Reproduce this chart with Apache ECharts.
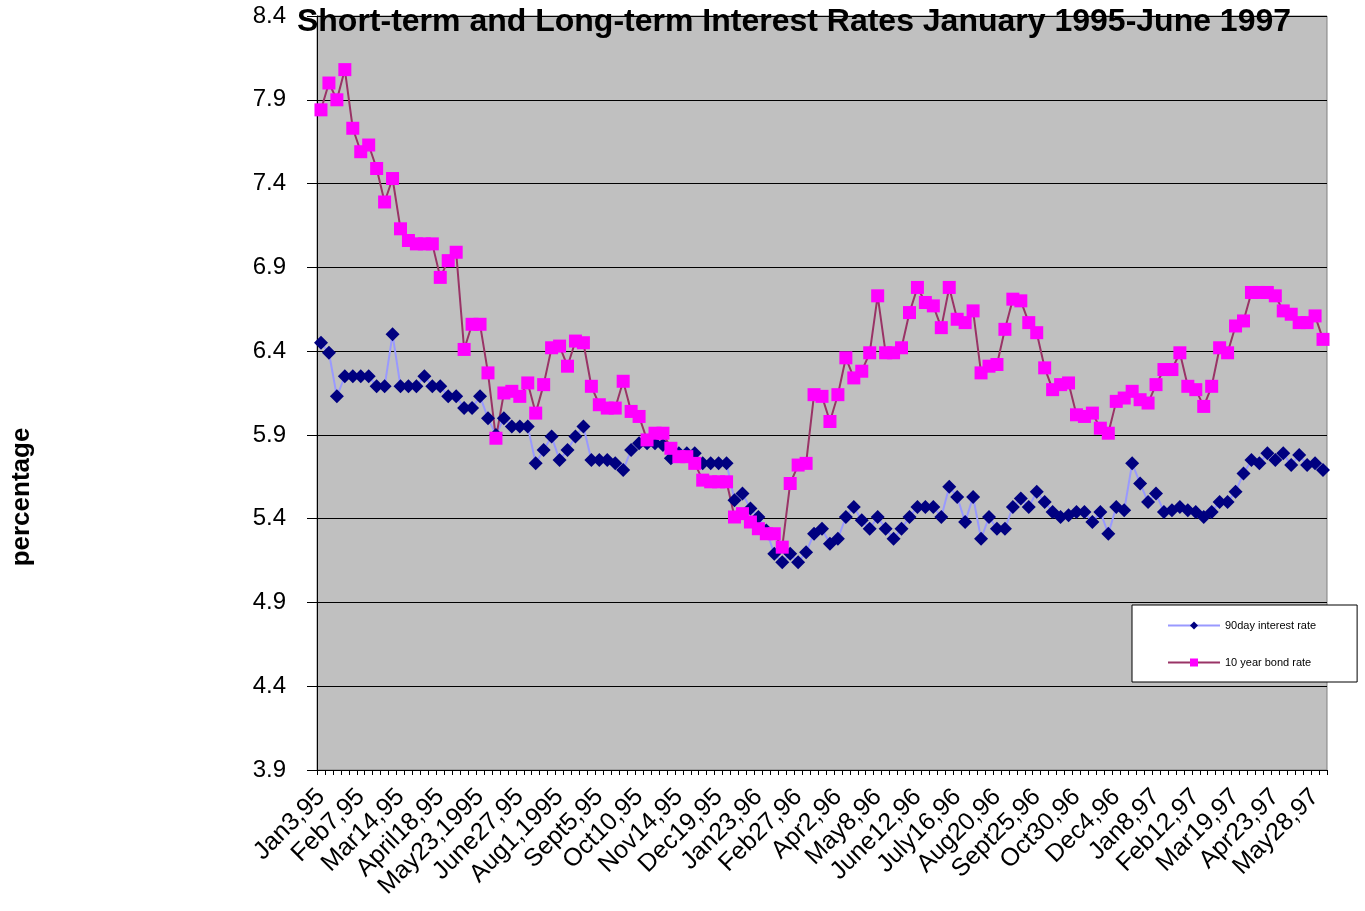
<!DOCTYPE html>
<html>
<head>
<meta charset="utf-8">
<title>Interest Rates 1995-1997</title>
<script src="https://cdn.jsdelivr.net/npm/echarts@6/dist/echarts.min.js"></script>
<style>
  html, body { margin: 0; padding: 0; background: #fff; }
  #chart { width: 1365px; height: 911px; }
</style>
</head>
<body>
<div id="chart"></div>
<script>
// weekly readings, Jan 3 1995 .. early June 1997
var tickLabels = ["Jan3,95", "Feb7,95", "Mar14,95", "April18,95", "May23,1995", "June27,95",
  "Aug1,1995", "Sept5,95", "Oct10,95", "Nov14,95", "Dec19,95", "Jan23,96", "Feb27,96",
  "Apr2,96", "May8,96", "June12,96", "July16,96", "Aug20,96", "Sept25,96", "Oct30,96",
  "Dec4,96", "Jan8,97", "Feb12,97", "Mar19,97", "Apr23,97", "May28,97"];

var bill90 = [6.45, 6.39, 6.13, 6.25, 6.25, 6.25, 6.25, 6.19, 6.19, 6.50,
  6.19, 6.19, 6.19, 6.25, 6.19, 6.19, 6.13, 6.13, 6.06, 6.06,
  6.13, 6.00, 5.90, 6.00, 5.95, 5.95, 5.95, 5.73, 5.81, 5.89,
  5.75, 5.81, 5.89, 5.95, 5.75, 5.75, 5.75, 5.73, 5.69, 5.81,
  5.85, 5.85, 5.85, 5.84, 5.76, 5.79, 5.79, 5.79, 5.73, 5.73,
  5.73, 5.73, 5.51, 5.55, 5.46, 5.41, 5.33, 5.19, 5.14, 5.19,
  5.14, 5.20, 5.31, 5.34, 5.25, 5.28, 5.41, 5.47, 5.39, 5.34,
  5.41, 5.34, 5.28, 5.34, 5.41, 5.47, 5.47, 5.47, 5.41, 5.59,
  5.53, 5.38, 5.53, 5.28, 5.41, 5.34, 5.34, 5.47, 5.52, 5.47,
  5.56, 5.50, 5.44, 5.41, 5.42, 5.44, 5.44, 5.38, 5.44, 5.31,
  5.47, 5.45, 5.73, 5.61, 5.50, 5.55, 5.44, 5.45, 5.47, 5.45,
  5.44, 5.41, 5.44, 5.50, 5.50, 5.56, 5.67, 5.75, 5.73, 5.79,
  5.75, 5.79, 5.72, 5.78, 5.72, 5.73, 5.69];

var bond10 = [7.84, 8.00, 7.90, 8.08, 7.73, 7.59, 7.63, 7.49, 7.29, 7.43,
  7.13, 7.06, 7.04, 7.04, 7.04, 6.84, 6.94, 6.99, 6.41, 6.56,
  6.56, 6.27, 5.88, 6.15, 6.16, 6.13, 6.21, 6.03, 6.20, 6.42,
  6.43, 6.31, 6.46, 6.45, 6.19, 6.08, 6.06, 6.06, 6.22, 6.04,
  6.01, 5.87, 5.91, 5.91, 5.82, 5.77, 5.77, 5.73, 5.63, 5.62,
  5.62, 5.62, 5.41, 5.43, 5.38, 5.34, 5.31, 5.31, 5.23, 5.61,
  5.72, 5.73, 6.14, 6.13, 5.98, 6.14, 6.36, 6.24, 6.28, 6.39,
  6.73, 6.39, 6.39, 6.42, 6.63, 6.78, 6.69, 6.67, 6.54, 6.78,
  6.59, 6.57, 6.64, 6.27, 6.31, 6.32, 6.53, 6.71, 6.70, 6.57,
  6.51, 6.30, 6.17, 6.20, 6.21, 6.02, 6.01, 6.03, 5.94, 5.91,
  6.10, 6.12, 6.16, 6.11, 6.09, 6.20, 6.29, 6.29, 6.39, 6.19,
  6.17, 6.07, 6.19, 6.42, 6.39, 6.55, 6.58, 6.75, 6.75, 6.75,
  6.73, 6.64, 6.62, 6.57, 6.57, 6.61, 6.47];

// value axis runs 3.9 .. 8.4 in steps of 0.5; plotted relative to the floor
var yFloor = 3.9;

// week labels; every fifth one is shown on the axis
var months = ["Jan", "Feb", "Mar", "Apr", "May", "Jun", "Jul", "Aug", "Sep", "Oct", "Nov", "Dec"];
var categories = [];
for (var i = 0; i < bill90.length; i++) {
  if (i % 5 === 0 && tickLabels[i / 5]) {
    categories.push(tickLabels[i / 5]);
  } else {
    var d = new Date(1995, 0, 3 + 7 * i);
    categories.push(months[d.getMonth()] + d.getDate() + "," + String(d.getFullYear()).slice(2));
  }
}

function shift(arr) {
  return arr.map(function (v) { return +(v - yFloor).toFixed(3); });
}

var myChart = echarts.init(document.getElementById("chart"));

myChart.setOption({
  animation: false,
  backgroundColor: "#fff",
  textStyle: { fontFamily: "Arial, 'Liberation Sans', sans-serif" },
  title: {
    text: "Short-term and Long-term Interest Rates January 1995-June 1997",
    left: 789,
    textAlign: "center",
    top: 1,
    textStyle: { fontSize: 32, fontWeight: "bold", color: "#000" }
  },
  graphic: [{
    type: "text",
    x: 22,
    y: 497,
    rotation: Math.PI / 2,
    style: {
      text: "percentage",
      font: "bold 26px Arial, 'Liberation Sans', sans-serif",
      fill: "#000",
      textAlign: "center",
      textVerticalAlign: "middle"
    }
  }],
  legend: {
    orient: "vertical",
    left: 1132,
    top: 605,
    padding: [15, 41, 14, 35],
    itemWidth: 52,
    itemHeight: 10,
    itemGap: 26,
    backgroundColor: "#fff",
    borderColor: "#000",
    borderWidth: 1,
    textStyle: { fontSize: 11, color: "#000" },
    data: ["90day interest rate", "10 year bond rate"]
  },
  grid: {
    left: 317,
    right: 38,
    top: 16,
    bottom: 141,
    show: true,
    backgroundColor: "#C0C0C0",
    borderColor: "#808080",
    borderWidth: 1
  },
  xAxis: {
    type: "category",
    data: categories,
    boundaryGap: true,
    axisLine: { lineStyle: { color: "#000", width: 1 } },
    axisTick: { show: true, interval: 0, length: 5, lineStyle: { color: "#000" } },
    axisLabel: { interval: 4, rotate: 45, fontSize: 25, color: "#000", margin: 23 },
    splitLine: { show: false }
  },
  yAxis: {
    type: "value",
    min: 0,
    max: 4.5,
    interval: 0.5,
    axisLine: { show: true, lineStyle: { color: "#000", width: 1 } },
    axisTick: { show: true, length: 10, lineStyle: { color: "#000" } },
    axisLabel: {
      fontSize: 24,
      color: "#000",
      margin: 31,
      formatter: function (v) { return (v + yFloor).toFixed(1); }
    },
    splitLine: { show: true, lineStyle: { color: "#000", width: 1 } }
  },
  series: [
    {
      name: "90day interest rate",
      type: "line",
      data: shift(bill90),
      symbol: "diamond",
      symbolSize: 14,
      showAllSymbol: true,
      itemStyle: { color: "#000080" },
      lineStyle: { color: "#9999FF", width: 2 }
    },
    {
      name: "10 year bond rate",
      type: "line",
      data: shift(bond10),
      symbol: "rect",
      symbolSize: 13,
      showAllSymbol: true,
      itemStyle: { color: "#FF00FF" },
      lineStyle: { color: "#993366", width: 2 }
    }
  ]
});
</script>
</body>
</html>
